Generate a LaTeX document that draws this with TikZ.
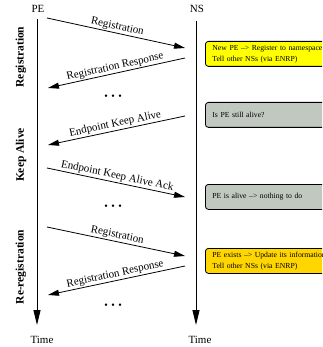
\documentclass[tikz,border=0pt]{standalone}
\usepackage{fontspec}
\setmainfont{Liberation Serif}
\usetikzlibrary{arrows.meta}
\definecolor{boxyellow}{RGB}{255,255,0}
\definecolor{boxgrey}{RGB}{192,200,192}
\definecolor{boxgold}{RGB}{255,214,0}
\begin{document}
\begin{tikzpicture}[x=1pt,y=-1pt,
  msg/.style={line width=0.8pt,-{Triangle[length=11pt,width=6pt]}},
  timeline/.style={line width=0.9pt,-{Triangle[length=15pt,width=7pt]}},
  lbl/.style={font=\fontsize{11}{12}\selectfont,sloped,above,inner sep=1pt,pos=0.5},
  phase/.style={font=\fontsize{11.5}{12}\selectfont\bfseries,rotate=90},
  head/.style={font=\fontsize{11}{12}\selectfont,inner sep=0pt},
  note/.style={draw,rounded corners=3pt,line width=0.8pt,anchor=north west,
    minimum height=25pt,text width=118pt,inner xsep=7pt,inner ysep=2pt,align=left,
    font=\fontsize{7.7}{11}\selectfont},
  dots/.style={font=\fontsize{10}{12}\selectfont,inner sep=0pt}]
\clip (0,0) rectangle (322,347);
% headers
\node[head] (pe) at (38,9) {PE};
\node[head] (ns) at (197,9) {NS};
\node[head] (t1) at (42,340) {Time};
\node[head] (t2) at (200,340) {Time};
% time lines
\coordinate (petop) at (37,19);
\coordinate (pebot) at (37,325);
\coordinate (nstop) at (196,21);
\coordinate (nsbot) at (196,325);
\draw[timeline] (petop) -- (pebot);
\draw[timeline] (nstop) -- (nsbot);
% phase labels
\node[phase] (ph1) at (21,57) {Registration};
\node[phase] (ph2) at (21,155) {Keep Alive};
\node[phase] (ph3) at (21,267) {Re-registration};
% message end points
\coordinate (a1) at (47,18);  \coordinate (b1) at (185,48);
\coordinate (a2) at (185,58); \coordinate (b2) at (48,88);
\coordinate (a3) at (185,116);\coordinate (b3) at (48,145);
\coordinate (a4) at (47,168); \coordinate (b4) at (185,197);
\coordinate (a5) at (47,227); \coordinate (b5) at (185,256);
\coordinate (a6) at (185,266);\coordinate (b6) at (48,295);
\draw[msg] (a1) -- node[lbl] {Registration} (b1);
\draw[msg] (a2) -- node[lbl] {Registration Response} (b2);
\draw[msg] (a3) -- node[lbl] {Endpoint Keep Alive} (b3);
\draw[msg] (a4) -- node[lbl] {Endpoint Keep Alive Ack} (b4);
\draw[msg] (a5) -- node[lbl] {Registration} (b5);
\draw[msg] (a6) -- node[lbl] {Registration Response} (b6);
% dots
\node[dots] (d1) at (113,97) {\textbullet\hspace{3.5pt}\textbullet\hspace{3.5pt}\textbullet};
\node[dots] (d2) at (113,207) {\textbullet\hspace{3.5pt}\textbullet\hspace{3.5pt}\textbullet};
\node[dots] (d3) at (113,306) {\textbullet\hspace{3.5pt}\textbullet\hspace{3.5pt}\textbullet};
% notes
\node[note,fill=boxyellow] (n1) at (205,41) {New PE --> Register to namespace\\Tell other NSs (via ENRP)};
\node[note,fill=boxgrey] (n2) at (205,102) {Is PE still alive?};
\node[note,fill=boxgrey] (n3) at (205,184) {PE is alive --> nothing to do};
\node[note,fill=boxgold] (n4) at (205,248) {PE exists --> Update its information\\Tell other NSs (via ENRP)};
\end{tikzpicture}
\end{document}
